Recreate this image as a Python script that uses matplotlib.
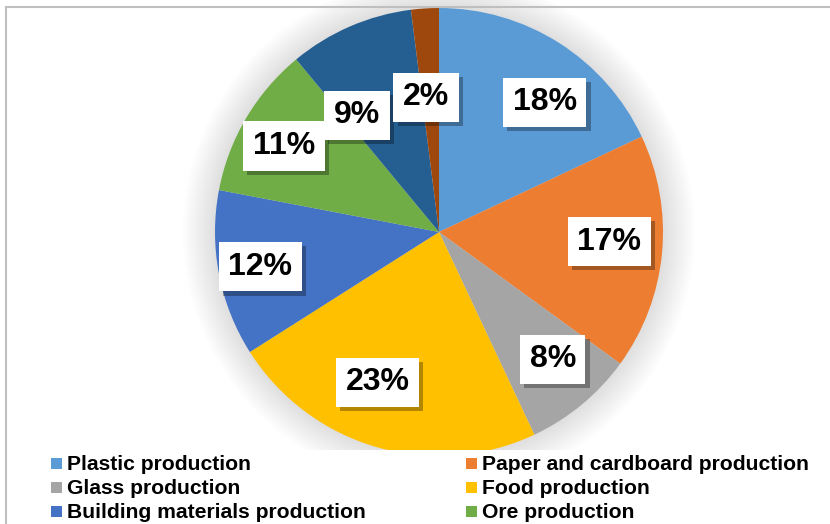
import numpy as np
import matplotlib
matplotlib.use("Agg")
import matplotlib.pyplot as plt
from matplotlib.patches import Rectangle, Circle
from matplotlib.lines import Line2D
import matplotlib.patheffects as pe

plt.rcParams['font.family'] = ['Liberation Sans', 'DejaVu Sans']

# share of each production sector, %
sectors = ["Plastic production", "Paper and cardboard production", "Glass production",
           "Food production", "Building materials production", "Ore production",
           "Other", "Other 2"]
shares = [18, 17, 8, 23, 12, 11, 9, 2]
colors = ["#5B9BD5", "#ED7D31", "#A5A5A5", "#FFC000", "#4472C4", "#70AD47",
          "#255E91", "#9E480E"]

# label placement (fraction of radius, angular nudge in degrees)
lbl_r = [0.76, 0.76, 0.75, 0.71, 0.81, 0.80, 0.65, 0.62]
lbl_da = [-6, 3.4, 3, -6.5, -0.9, 0.6, 10.9, 1.7]

W, H = 830, 524
fig = plt.figure(figsize=(W / 100, H / 100), dpi=100)

cx, cy, R = 439, 232, 224
ax = fig.add_axes([(cx - R) / W, (H - cy - R) / H, 2 * R / W, 2 * R / H])

# soft halo around the pie
for k in range(16):
    ax.add_patch(Circle((0, 0), 1.0 + 0.009 * (k + 1), color="black",
                        alpha=0.007, lw=0, zorder=0, clip_on=False))

wedges, _ = ax.pie(shares, colors=colors, startangle=90, counterclock=False,
                   radius=1.0, wedgeprops=dict(linewidth=0))
for w in wedges:
    w.set_zorder(2)
    w.set_clip_on(False)

total = float(sum(shares))
start = 90.0
for i, v in enumerate(shares):
    sweep = 360.0 * v / total
    mid = np.deg2rad(start - sweep / 2 + lbl_da[i])
    start -= sweep
    x, y = lbl_r[i] * np.cos(mid), lbl_r[i] * np.sin(mid) - 0.016
    t = ax.text(x, y, f"{v}%", ha="center", va="center", fontsize=23,
                fontweight="bold", color="black", zorder=5,
                bbox=dict(boxstyle="square,pad=0.3", facecolor="white",
                          edgecolor="none"))
    t.get_bbox_patch().set_path_effects([
        pe.SimplePatchShadow(offset=(3, -3), shadow_rgbFace="black", alpha=0.3),
        pe.Normal()])

ax.set_xlim(-1, 1)
ax.set_ylim(-1, 1)
ax.set_aspect("equal")
ax.axis("off")

# white band behind the legend
fig.patches.append(Rectangle((8 / W, 0), 1, (H - 450) / H, transform=fig.transFigure,
                             facecolor="white", edgecolor="none", zorder=5))

# chart frame
fig.lines.append(Line2D([6 / W, 1], [1 - 7 / H, 1 - 7 / H], transform=fig.transFigure,
                        color="#BFBFBF", lw=1.5, zorder=6))
fig.lines.append(Line2D([6 / W, 6 / W], [0, 1 - 7 / H], transform=fig.transFigure,
                        color="#BFBFBF", lw=1.5, zorder=6))

# legend, two columns filled row by row
col_x = [51, 466]
row_y = [463, 487, 511]
for i in range(6):
    mx = col_x[i % 2]
    my = row_y[i // 2]
    fig.patches.append(Rectangle((mx / W, (H - my - 5.5) / H), 11 / W, 11 / H,
                                 transform=fig.transFigure, facecolor=colors[i],
                                 edgecolor="none", zorder=7))
    fig.text((mx + 15.5) / W, (H - my - 7.5) / H, sectors[i], fontsize=15.2,
             fontweight="bold", va="baseline", ha="left", zorder=8)

fig.savefig("out.png", dpi=100, facecolor="white")
